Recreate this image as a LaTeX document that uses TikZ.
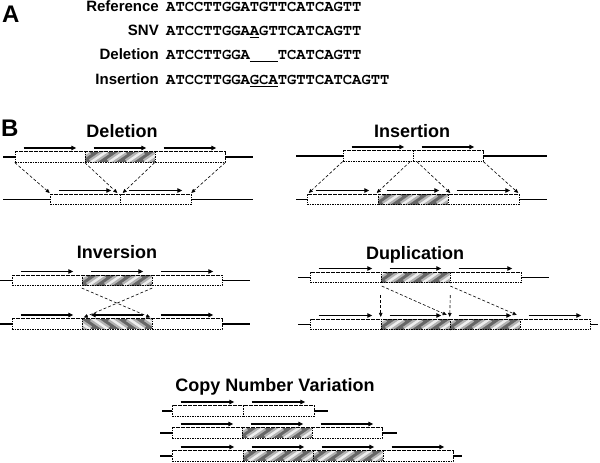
\documentclass[tikz,border=0pt]{standalone}
\usepackage{fontspec}
\setsansfont{Liberation Sans}
\setmonofont{Liberation Mono}
\usetikzlibrary{arrows.meta}
\definecolor{hatchdark}{gray}{0.40}
\definecolor{hatchmid}{gray}{0.70}
\definecolor{hatchlight}{gray}{0.93}

\begin{document}
\begin{tikzpicture}[x=1pt,y=-1pt]

  \tikzstyle{panel}=[font=\sffamily\bfseries\fontsize{24}{28}\selectfont, inner sep=0, anchor=base west]
  \tikzstyle{title}=[font=\sffamily\bfseries\fontsize{18}{21}\selectfont, inner sep=0, anchor=base]
  \tikzstyle{seqname}=[font=\sffamily\bfseries\fontsize{15}{18}\selectfont, inner sep=0, anchor=base east]
  \tikzstyle{seq}=[font=\fontencoding{T1}\fontfamily{pcr}\fontseries{b}\fontsize{15.5}{18}\selectfont, inner sep=0, anchor=base west]
  \tikzstyle{seg}=[draw, dash pattern=on 1.6pt off 0.9pt, line width=0.55pt, fill=white, minimum height=10.5pt, inner sep=0]
  \tikzstyle{dupseg}=[seg, fill=hatchdark, path picture={
      \foreach \k in {-30,-12,...,90} {
        \draw[solid, hatchmid, line width=7pt] ([xshift=\k pt]path picture bounding box.south west) -- ++(16pt,11pt);
        \draw[solid, hatchlight, line width=2.5pt] ([xshift=\k pt]path picture bounding box.south west) -- ++(16pt,11pt);}}]
  \tikzstyle{invseg}=[seg, fill=hatchdark, path picture={
      \foreach \k in {-10,8,...,110} {
        \draw[solid, hatchmid, line width=7pt] ([xshift=\k pt]path picture bounding box.south west) -- ++(-16pt,11pt);
        \draw[solid, hatchlight, line width=2.5pt] ([xshift=\k pt]path picture bounding box.south west) -- ++(-16pt,11pt);}}]
  \tikzstyle{genome}=[line width=1.1pt]
  \tikzstyle{readarrow}=[line width=1.4pt, -{Triangle[length=5pt,width=4.5pt]}]
  \tikzstyle{movearrow}=[densely dashed, line width=0.6pt, -{Triangle[length=4pt,width=3.5pt]}]

  \useasboundingbox (0,0) rectangle (600,463);

  % panel A
  \path
  (2,22) node[panel](pA){A}
  (1,136) node[panel](pB){B};

  \path
  (159,11.5) node[seqname](nref){Reference}
  (159,35.5) node[seqname](nsnv){SNV}
  (159,59.5) node[seqname](ndel){Deletion}
  (159,84) node[seqname](nins){Insertion};

  \path
  (166,11.5) node[seq](sref){ATCCTTGGATGTTCATCAGTT}
  (166,35.5) node[seq](ssnv){ATCCTTGGA\underline{A}GTTCATCAGTT}
  (166,59.5) node[seq](sdel){ATCCTTGGA\underline{\phantom{TGT}}TCATCAGTT}
  (166,84) node[seq](sins){ATCCTTGGA\underline{GCA}TGTTCATCAGTT};

  % panel B titles
  \path
  (122,137) node[title](tdel){Deletion}
  (412,137) node[title](tins){Insertion}
  (117,258) node[title](tinv){Inversion}
  (415,259) node[title](tdup){Duplication}
  (275,391) node[title](tcnv){Copy Number Variation};

  % genome backbones
  \coordinate (dtL) at (3,157);   \coordinate (dtR) at (253,157);
  \coordinate (dbL) at (3,199.5); \coordinate (dbR) at (253,199.5);
  \coordinate (itL) at (296,156); \coordinate (itR) at (547,156);
  \coordinate (ibL) at (296,199.5); \coordinate (ibR) at (547,199.5);
  \coordinate (vtL) at (0,280.5); \coordinate (vtR) at (250,280.5);
  \coordinate (vbL) at (0,324);   \coordinate (vbR) at (250,324);
  \coordinate (utL) at (298,277.5); \coordinate (utR) at (549,277.5);
  \coordinate (ubL) at (298,324.5); \coordinate (ubR) at (598,324.5);
  \coordinate (caL) at (162,411); \coordinate (caR) at (328,411);
  \coordinate (cbL) at (160,433); \coordinate (cbR) at (397,433);
  \coordinate (ccL) at (160,456); \coordinate (ccR) at (462,456);

  \draw[genome] (dtL)--(dtR);
  \draw[genome] (dbL)--(dbR);
  \draw[genome] (itL)--(itR);
  \draw[genome] (ibL)--(ibR);
  \draw[genome] (vtL)--(vtR);
  \draw[genome] (vbL)--(vbR);
  \draw[genome] (utL)--(utR);
  \draw[genome] (ubL)--(ubR);
  \draw[genome] (caL)--(caR);
  \draw[genome] (cbL)--(cbR);
  \draw[genome] (ccL)--(ccR);

  % deletion
  \path
  (50,157) node[seg,minimum width=70](dt1){}
  (120,157) node[dupseg,minimum width=70](dt2){}
  (190,157) node[seg,minimum width=70](dt3){};
  \path
  (85,199.5) node[seg,minimum width=70](db1){}
  (155.5,199.5) node[seg,minimum width=71](db2){};

  % insertion
  \path
  (378,156) node[seg,minimum width=70](it1){}
  (448,156) node[seg,minimum width=70](it2){};
  \path
  (342.5,199.5) node[seg,minimum width=71](ib1){}
  (413,199.5) node[dupseg,minimum width=70](ib2){}
  (483.5,199.5) node[seg,minimum width=71](ib3){};

  % inversion
  \path
  (47,280.5) node[seg,minimum width=70](vt1){}
  (117,280.5) node[dupseg,minimum width=70](vt2){}
  (187,280.5) node[seg,minimum width=70](vt3){};
  \path
  (47,324) node[seg,minimum width=70](vb1){}
  (117,324) node[invseg,minimum width=70](vb2){}
  (187,324) node[seg,minimum width=70](vb3){};

  % duplication
  \path
  (345.5,277.5) node[seg,minimum width=71](ut1){}
  (415.5,277.5) node[dupseg,minimum width=69](ut2){}
  (485.5,277.5) node[seg,minimum width=71](ut3){};
  \path
  (345.5,324.5) node[seg,minimum width=71](ub1){}
  (415.5,324.5) node[dupseg,minimum width=69](ub2){}
  (485,324.5) node[dupseg,minimum width=70](ub3){}
  (555,324.5) node[seg,minimum width=70](ub4){};

  % copy number variation
  \path
  (207.5,411) node[seg,minimum width=71](ca1){}
  (278.5,411) node[seg,minimum width=71](ca2){};
  \path
  (207,433) node[seg,minimum width=70](cb1){}
  (277,433) node[dupseg,minimum width=70](cb2){}
  (347,433) node[seg,minimum width=70](cb3){};
  \path
  (207.5,456) node[seg,minimum width=71](cc1){}
  (278,456) node[dupseg,minimum width=70](cc2){}
  (348,456) node[dupseg,minimum width=70](cc3){}
  (418,456) node[seg,minimum width=70](cc4){};

  % reads above the segments
  \foreach \s in {dt1,dt2,dt3,db1,db2,it1,it2,ib1,ib2,ib3,vt1,vt2,vt3,vb1,vb3,
                  ut1,ut2,ut3,ub1,ub2,ub3,ub4,ca1,ca2,cb1,cb2,cb3,cc1,cc2,cc3,cc4}
    \draw[readarrow] ([shift={(9,-3.5)}]\s.north west) -- ([shift={(-9,-3.5)}]\s.north east);
  \draw[readarrow] ([shift={(-9,-3.5)}]vb2.north east) -- ([shift={(9,-3.5)}]vb2.north west);

  \draw[movearrow] (dt1.south west) -- ([yshift=1]db1.north west);
  \draw[movearrow] (dt2.south west) -- ([xshift=-3,yshift=1]db1.north east);
  \draw[movearrow] (dt3.south west) -- ([xshift=3,yshift=1]db2.north west);
  \draw[movearrow] (dt3.south east) -- ([yshift=1]db2.north east);

  \draw[movearrow] (it1.south west) -- ([xshift=2,yshift=1]ib1.north west);
  \draw[movearrow] ([xshift=-3]it1.south east) -- ([xshift=-1,yshift=1]ib2.north west);
  \draw[movearrow] ([xshift=4]it2.south west) -- ([xshift=2,yshift=1]ib2.north east);
  \draw[movearrow] (it2.south east) -- ([xshift=-1,yshift=1]ib3.north east);

  \draw[movearrow] ([yshift=-2]vt2.south west) -- ([xshift=-2,yshift=1]vb2.north east);
  \draw[movearrow] ([yshift=-2]vt2.south east) -- ([xshift=2,yshift=1]vb2.north west);

  \draw[movearrow] ([yshift=-12]ut2.south west) -- ([yshift=2]ub2.north west);
  \draw[movearrow] ([yshift=-12]ut2.south east) -- ([yshift=2]ub3.north west);
  \draw[movearrow] ([xshift=1,yshift=-3]ut2.south west) -- ([xshift=-3,yshift=4]ub3.north west);
  \draw[movearrow] ([yshift=-3]ut2.south east) -- ([xshift=-3,yshift=4]ub4.north west);
\end{tikzpicture}
\end{document}
